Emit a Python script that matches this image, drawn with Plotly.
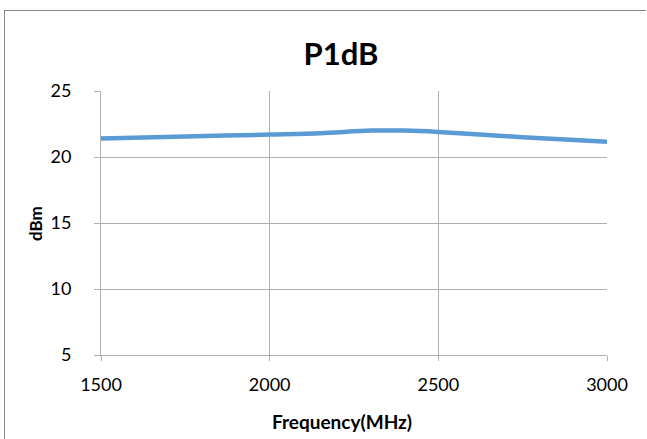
import plotly.graph_objects as go

freq_mhz = [1500, 1750, 2000, 2150, 2300, 2400, 2500, 2750, 3000]
p1db_dbm = [21.4, 21.55, 21.7, 21.8, 22.0, 22.0, 21.9, 21.5, 21.15]

x_ticks = [1500, 2000, 2500, 3000]
y_ticks = [5, 10, 15, 20, 25]

W, H = 647, 439
L, R, T, B = 101, 40, 91, 84
pw, ph = W - L - R, H - T - B

def px(x):
    return (x - L) / pw

def py(y):
    return (H - B - y) / ph

FONT = "Lato, 'Open Sans', sans-serif"

fig = go.Figure()
fig.add_trace(go.Scatter(
    x=freq_mhz, y=p1db_dbm, mode="lines",
    line=dict(color="#5B9BD5", width=4.5, shape="spline", smoothing=0.8),
    showlegend=False, hoverinfo="x+y",
))

grid = "#AFAFAF"
fig.update_layout(
    width=W, height=H,
    margin=dict(l=L, r=R, t=T, b=B),
    paper_bgcolor="white", plot_bgcolor="white",
    font=dict(family=FONT, color="#000000", size=18),
    title=dict(text="<b>P1dB</b>", x=341 / W, xanchor="center",
               y=1 - 54 / H, yanchor="middle",
               font=dict(size=31, family=FONT)),
    xaxis=dict(range=[1500, 3000], tickvals=x_ticks, showgrid=True,
               gridcolor=grid, gridwidth=1, zeroline=False,
               showline=True, linecolor=grid, linewidth=1,
               ticks="outside", ticklen=5, tickcolor=grid,
               ticklabelstandoff=8,
               tickfont=dict(size=18)),
    yaxis=dict(range=[5, 25], tickvals=y_ticks, showgrid=True,
               gridcolor=grid, gridwidth=1, zeroline=False,
               showline=True, linecolor=grid, linewidth=1,
               ticks="outside", ticklen=6, tickcolor=grid,
               ticklabelstandoff=19,
               tickfont=dict(size=18)),
    annotations=[
        dict(text="<b>Frequency(MHz)</b>", xref="paper", yref="paper",
             x=px(342), y=py(421), xanchor="center", yanchor="middle",
             showarrow=False, font=dict(size=19, family=FONT)),
        dict(text="<b>dBm</b>", xref="paper", yref="paper",
             x=px(35), y=py(224), xanchor="center", yanchor="middle",
             textangle=-90, showarrow=False, font=dict(size=17, family=FONT)),
    ],
    shapes=[
        dict(type="line", xref="paper", yref="paper",
             x0=px(4), x1=px(646), y0=py(10.5), y1=py(10.5),
             line=dict(color="#888888", width=1)),
        dict(type="line", xref="paper", yref="paper",
             x0=px(4.5), x1=px(4.5), y0=py(10), y1=py(445),
             line=dict(color="#888888", width=1)),
    ],
)

fig.write_html("out.html", config={"displayModeBar": False},
               post_script="document.body.style.margin='0';")
